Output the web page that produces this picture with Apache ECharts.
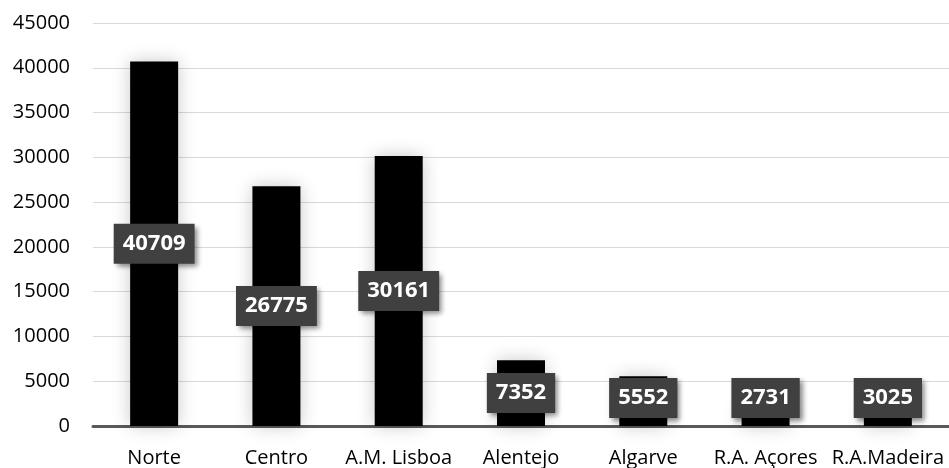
<!DOCTYPE html>
<html>
<head>
<meta charset="utf-8">
<script src="https://cdn.jsdelivr.net/npm/echarts@6/dist/echarts.min.js"></script>
<style>
  html, body { margin: 0; padding: 0; background: #fff; }
  #chart { width: 949px; height: 468px; }
</style>
</head>
<body>
<div id="chart"></div>
<script>
const regions = ["Norte", "Centro", "A.M. Lisboa", "Alentejo", "Algarve", "R.A. Açores", "R.A.Madeira"];
const values = [40709, 26775, 30161, 7352, 5552, 2731, 3025];

const chart = echarts.init(document.getElementById("chart"));

// grid geometry (px)
const gridTop = 23;
const gridHeight = 403;
const axisY = gridTop + gridHeight;

const option = {
  animation: false,
  textStyle: { fontFamily: "Open Sans" },
  grid: { left: 93, top: gridTop, width: 865, height: gridHeight },
  xAxis: {
    type: "category",
    data: regions,
    axisLine: { lineStyle: { color: "#595959", width: 3 } },
    axisTick: { length: 6, lineStyle: { color: "#595959", width: 3 } },
    axisLabel: { interval: 0, margin: 22, fontSize: 20, color: "#000", fontFamily: "Open Sans" },
  },
  yAxis: {
    type: "value",
    min: 0,
    max: 45000,
    interval: 5000,
    axisLine: { show: false },
    axisTick: { show: false },
    splitLine: { lineStyle: { color: "#d9d9d9", width: 1 } },
    axisLabel: {
      margin: 23,
      fontSize: 20,
      color: "#000",
      fontFamily: "Open Sans",
      formatter: (v) => String(v),
    },
  },
  series: [
    {
      type: "bar",
      data: values,
      barWidth: 48,
      itemStyle: {
        color: "#000",
        shadowBlur: 18,
        shadowColor: "rgba(0,0,0,0.22)",
      },
      label: {
        show: true,
        position: "inside",
        color: "#fff",
        fontFamily: "Open Sans",
        fontWeight: "bold",
        fontSize: 22,
        lineHeight: 24,
        backgroundColor: "#404040",
        padding: [8, 9, 8, 9],
        shadowBlur: 5,
        shadowOffsetX: 3,
        shadowOffsetY: 3,
        shadowColor: "rgba(0,0,0,0.45)",
      },
      // keep the small-bar labels above the axis line
      labelLayout: function (p) {
        const r = p.labelRect;
        const bottom = r.y + r.height;
        const limit = axisY - 8;
        if (bottom > limit) {
          return { dy: limit - bottom };
        }
      },
    },
  ],
};

chart.setOption(option);
</script>
</body>
</html>
